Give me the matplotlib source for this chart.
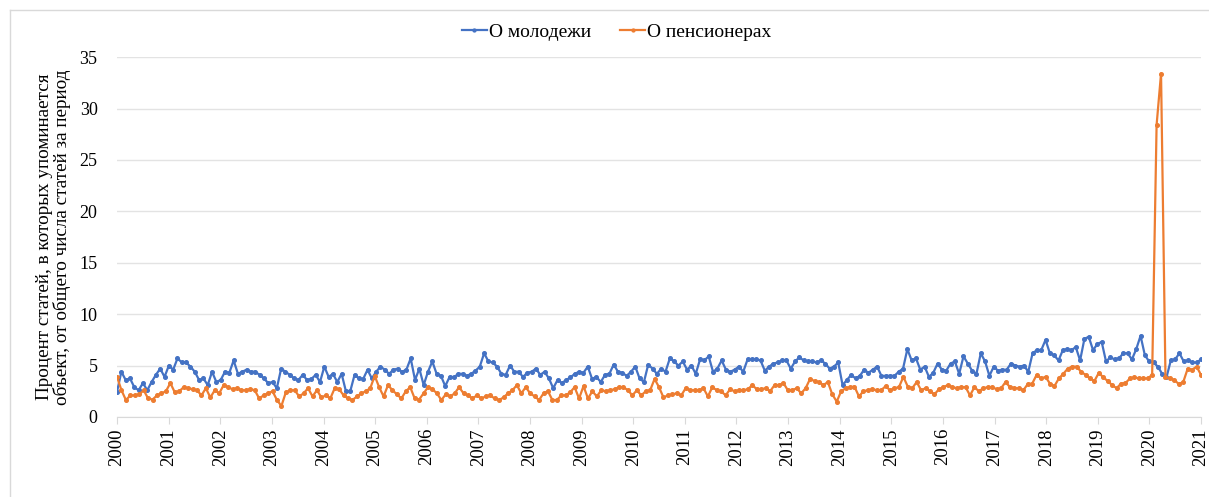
import numpy as np
import matplotlib
matplotlib.use("Agg")
import matplotlib.pyplot as plt
from matplotlib.lines import Line2D

plt.rcParams['font.family'] = ['Liberation Serif', 'DejaVu Serif']

# monthly shares (2000 .. 2021)
youth = [
    2.46, 4.4, 3.6, 3.75, 2.9, 2.6, 3.3, 2.6, 3.4, 4.1, 4.7, 3.9, 5.0, 4.6, 5.7, 5.3, 5.3, 4.9, 4.4, 3.6,
    3.75, 3.1, 4.4, 3.4, 3.6, 4.4, 4.3, 5.5, 4.2, 4.4, 4.6, 4.4, 4.4, 4.1, 3.75, 3.3, 3.4, 2.8, 4.7, 4.4,
    4.1, 3.75, 3.6, 4.1, 3.6, 3.7, 4.1, 3.4, 4.9, 3.9, 4.2, 3.4, 4.2, 2.5, 2.5,
    4.1, 3.75, 3.7, 4.6, 3.75, 4.4, 4.9, 4.6, 4.2, 4.6, 4.7, 4.4, 4.6, 5.7, 3.6, 4.7, 3.1, 4.4, 5.4, 4.2,
    4.0, 3.0, 3.9, 3.85, 4.2, 4.2, 4.0, 4.2, 4.5, 4.9, 6.2, 5.4, 5.3, 4.9, 4.2, 4.1, 5.0, 4.4, 4.4, 3.9,
    4.3, 4.4, 4.7, 4.1, 4.4, 3.75, 2.8, 3.6, 3.3, 3.6, 3.85, 4.2, 4.4, 4.3, 4.9, 3.7, 3.9, 3.4,
    4.1, 4.2, 5.1, 4.4, 4.3, 4.0, 4.4, 4.9, 3.75, 3.4, 5.1, 4.7, 4.2, 4.7, 4.4, 5.7, 5.4, 5.0, 5.4, 4.6,
    5.0, 4.2, 5.6, 5.5, 5.9, 4.4, 4.7, 5.5, 4.6, 4.4, 4.6, 4.9, 4.4, 5.6, 5.6, 5.6, 5.5, 4.5, 4.9, 5.2,
    5.3, 5.5, 5.5, 4.7, 5.4, 5.8, 5.5, 5.4, 5.4, 5.3, 5.5, 5.2, 4.7, 4.9, 5.3, 3.1, 3.6, 4.1,
    3.75, 4.0, 4.6, 4.3, 4.6, 4.9, 4.0, 4.0, 4.0, 4.0, 4.4, 4.7, 6.6, 5.5, 5.7, 4.6, 4.9, 3.9, 4.3, 5.2,
    4.6, 4.5, 5.2, 5.4, 4.2, 5.9, 5.2, 4.5, 4.2, 6.2, 5.4, 4.0, 4.9, 4.5, 4.6, 4.6, 5.2, 5.0, 4.9, 5.0,
    4.4, 6.2, 6.5, 6.5, 7.5, 6.2, 6.0, 5.5, 6.5, 6.6, 6.5, 6.8, 5.5, 7.6, 7.8, 6.5, 7.1, 7.3, 5.4, 5.8,
    5.6, 5.7, 6.2, 6.2, 5.6, 6.6, 7.9, 6.0, 5.4, 5.3, 4.9, 4.2, 3.85, 5.5, 5.6, 6.2, 5.4, 5.5, 5.3, 5.3, 5.6,
]

pensioners = [
    3.9, 2.6, 1.65, 2.1, 2.1, 2.2, 2.6, 1.8, 1.7, 2.1, 2.3, 2.5, 3.3, 2.4, 2.5, 2.9, 2.8, 2.7, 2.6, 2.1,
    2.8, 1.9, 2.6, 2.3, 3.1, 2.9, 2.7, 2.8, 2.6, 2.6, 2.7, 2.6, 1.8, 2.1, 2.3, 2.5, 1.65, 1.07, 2.4, 2.6,
    2.6, 2.0, 2.3, 2.8, 2.0, 2.6, 1.9, 2.1, 1.8, 2.8, 2.7, 2.1, 1.8, 1.65,
    2.0, 2.3, 2.5, 2.8, 4.0, 2.9, 2.0, 3.1, 2.6, 2.2, 1.8, 2.5, 2.9, 1.8, 1.7, 2.3, 2.9, 2.7, 2.3, 1.65,
    2.2, 2.0, 2.3, 2.9, 2.3, 2.1, 1.8, 2.1, 1.8, 2.0, 2.1, 1.8, 1.65, 1.9, 2.3, 2.6, 3.1, 2.3, 2.9, 2.3,
    2.0, 1.65, 2.3, 2.5, 1.65, 1.65, 2.1, 2.1, 2.4, 2.9, 1.8, 3.0, 1.8, 2.5,
    2.0, 2.6, 2.5, 2.6, 2.7, 2.9, 2.9, 2.6, 2.1, 2.6, 2.1, 2.5, 2.6, 3.7, 2.9, 1.9, 2.1, 2.2, 2.3, 2.1,
    2.8, 2.6, 2.6, 2.6, 2.8, 2.0, 2.9, 2.6, 2.5, 2.1, 2.7, 2.5, 2.6, 2.6, 2.7, 3.1, 2.7, 2.7, 2.8, 2.5,
    3.1, 3.1, 3.3, 2.6, 2.6, 2.8, 2.3, 2.8, 3.7, 3.5, 3.4, 3.1, 3.4, 2.2, 1.5, 2.5, 2.8,
    2.9, 2.95, 2.0, 2.5, 2.6, 2.7, 2.6, 2.6, 3.0, 2.6, 2.8, 2.9, 3.9, 2.95, 2.8, 3.4, 2.6, 2.8, 2.5, 2.2,
    2.7, 2.9, 3.1, 2.9, 2.8, 2.9, 2.9, 2.1, 2.9, 2.5, 2.8, 2.9, 2.9, 2.7, 2.8, 3.4, 2.9, 2.8, 2.8, 2.6,
    3.2, 3.25, 4.1, 3.75, 3.9, 3.25, 3.0, 3.75, 4.2, 4.7, 4.9, 4.9, 4.4, 4.1, 3.75, 3.5, 4.3, 3.85, 3.5, 3.1,
    2.8, 3.25, 3.3, 3.75, 3.85, 3.75, 3.75, 3.75, 4.1, 28.4, 33.4, 3.85, 3.75, 3.6, 3.2, 3.4, 4.7, 4.6, 4.9, 4.1,
]

years = list(range(2000, 2022))
labels = ['О молодежи', 'О пенсионерах']
colors = ['#4472C4', '#ED7D31']

fig = plt.figure(figsize=(12.09, 4.97), dpi=100)
ax = fig.add_axes([0.0968, 0.161, 0.8966, 0.724])

for vals, lab, col in zip([youth, pensioners], labels, colors):
    x = np.linspace(years[0], years[-1], len(vals))
    ax.plot(x, vals, color=col, lw=1.6, marker='o', ms=2.6, label=lab, zorder=3)

ax.set_xlim(years[0], years[-1])
ax.set_ylim(0, 35)
ax.set_yticks(range(0, 36, 5))
ax.set_xticks(years)
ax.set_xticklabels([str(y) for y in years], rotation=90, fontsize=13.5)
ax.tick_params(axis='y', length=0, labelsize=13, pad=14)
ax.tick_params(axis='x', length=5, color='#D9D9D9', pad=3)
ax.grid(axis='y', color='#E3E3E3', lw=1)
ax.set_axisbelow(True)
for s in ['top', 'right', 'left']:
    ax.spines[s].set_visible(False)
ax.spines['bottom'].set_color('#D9D9D9')

ax.set_ylabel('Процент статей, в которых упоминается\nобъект, от общего числа статей за период',
              fontsize=13.8, labelpad=6, linespacing=1.0)

ax.legend(loc='center', bbox_to_anchor=(0.51, 0.936), bbox_transform=fig.transFigure,
          ncol=2, frameon=False, fontsize=14, handlelength=1.3, handletextpad=0.1,
          columnspacing=1.5, markerscale=0.8)

# chart-area border (top and left visible)
fig.add_artist(Line2D([10 / 1209, 1], [1 - 10 / 497, 1 - 10 / 497], color='#D9D9D9', lw=1))
fig.add_artist(Line2D([10 / 1209, 10 / 1209], [0, 1 - 10 / 497], color='#D9D9D9', lw=1))

fig.savefig('out.png', dpi=100)
